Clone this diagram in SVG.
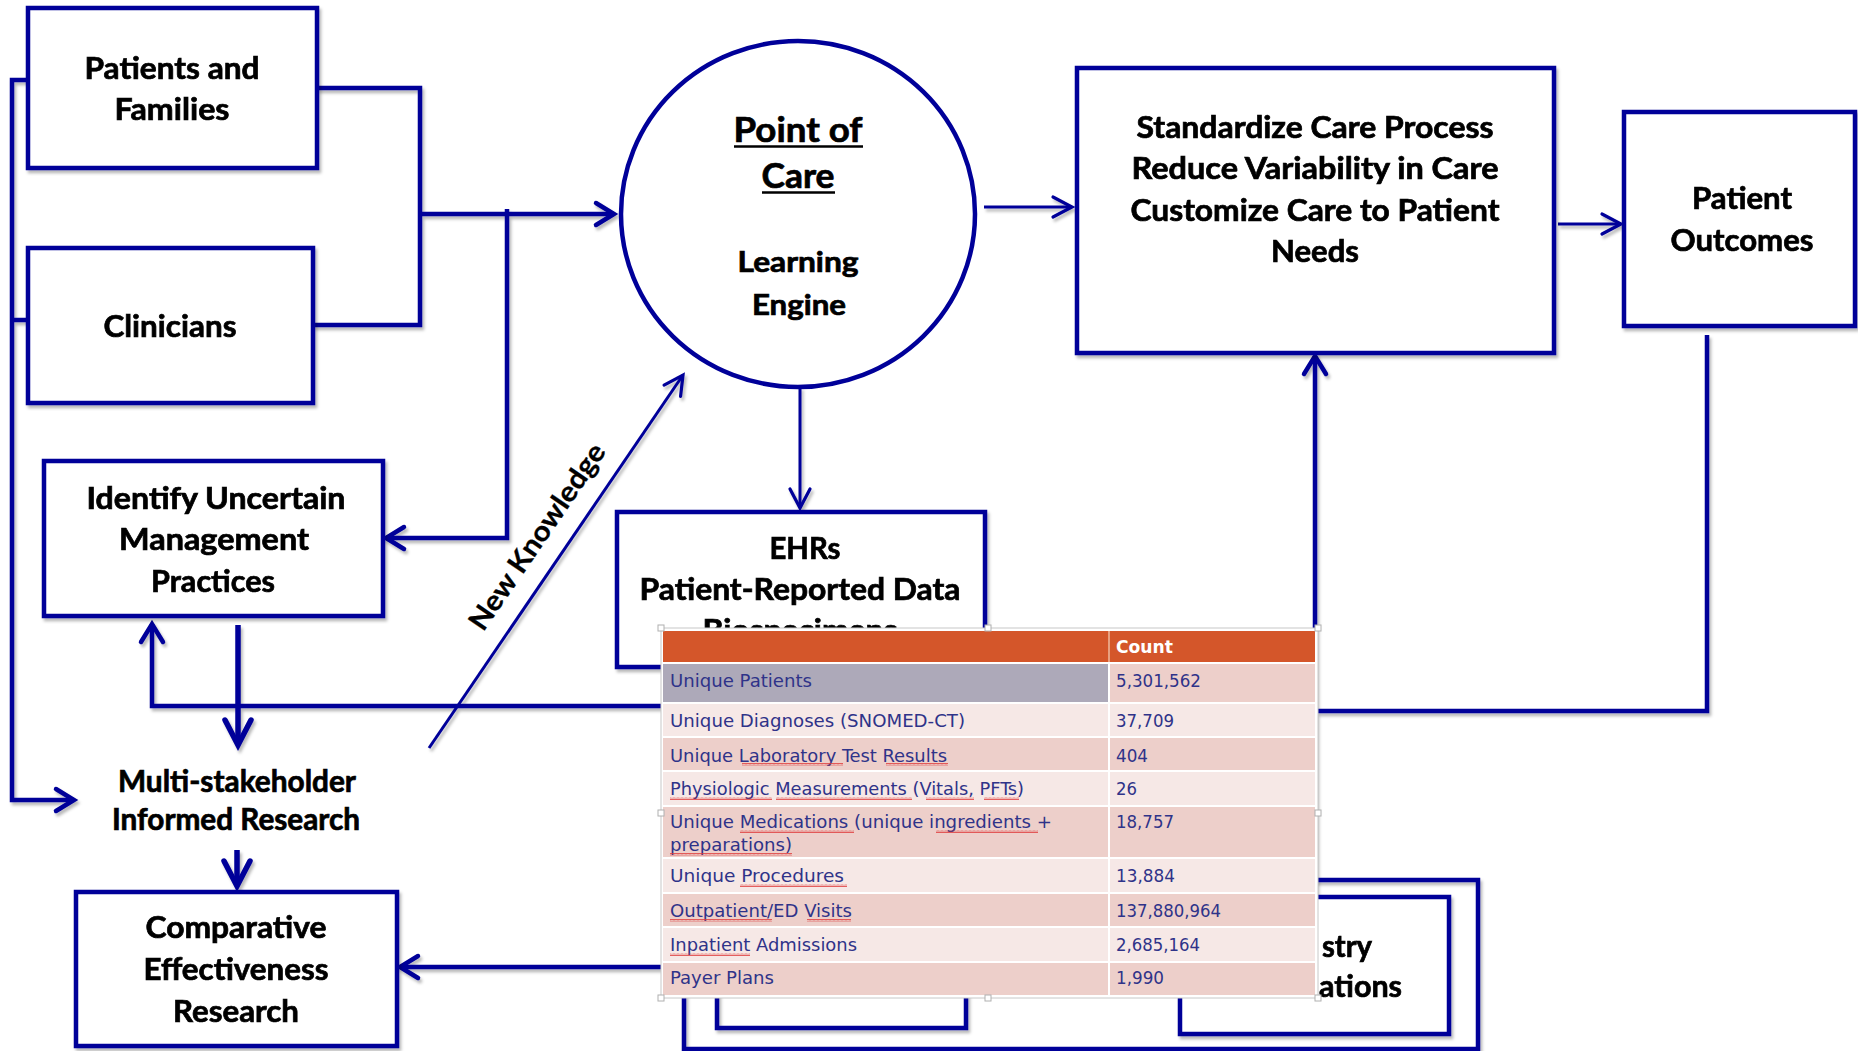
<svg xmlns="http://www.w3.org/2000/svg" width="1858" height="1051" viewBox="0 0 1858 1051">
<defs>
<style>
.box{fill:#fff;stroke:#000099;stroke-width:4.5;stroke-linejoin:miter}
.hid{fill:none;stroke:#000099;stroke-width:4.5}
.ln{fill:none;stroke:#000099;stroke-width:4.5;stroke-linejoin:miter}
.thin{fill:none;stroke:#000099;stroke-width:3}
.thick{fill:none;stroke:#000099;stroke-width:5.5}
.lbl{font-family:"Lato","Open Sans","Liberation Sans",sans-serif;font-weight:700;fill:#000;stroke:#000;stroke-width:0.7px;text-anchor:middle;font-size:30px}
.tt{font-family:"DejaVu Sans Condensed","DejaVu Sans","Liberation Sans",sans-serif;font-size:18.5px;fill:#2F3389}
.hd{font-family:"DejaVu Sans Condensed","DejaVu Sans","Liberation Sans",sans-serif;font-size:18.5px;font-weight:700;fill:#fff}
.dk{fill:#EDCFCA}
.lt{fill:#F6E8E6}
.frame{fill:#fff;stroke:#C8C8C8;stroke-width:1}
.hdb{fill:#fff;stroke:#B0B0B0;stroke-width:1}
.sq{fill:url(#wavy)}
</style>
<pattern id="wavy" x="0" y="0" width="4" height="3" patternUnits="userSpaceOnUse">
<path d="M0,2.4 L1,0.6 L2,2.4 L3,0.6 L4,2.4" fill="none" stroke="#E03A3A" stroke-width="0.8"/>
</pattern>
<marker id="ah" viewBox="-30 -20 40 40" refX="0" refY="0" markerWidth="40" markerHeight="40" markerUnits="userSpaceOnUse" orient="auto">
<path d="M-18,-11 L0,0 L-18,11" fill="none" stroke="#000099" stroke-width="4.5" stroke-linecap="round"/>
</marker>
<marker id="ahb" viewBox="-30 -20 40 40" refX="0" refY="0" markerWidth="40" markerHeight="40" markerUnits="userSpaceOnUse" orient="auto">
<path d="M-25,-13 L0,0 L-25,13" fill="none" stroke="#000099" stroke-width="5.5" stroke-linecap="round"/>
</marker>
<marker id="aht" viewBox="-30 -20 40 40" refX="0" refY="0" markerWidth="40" markerHeight="40" markerUnits="userSpaceOnUse" orient="auto">
<path d="M-19,-10 L0,0 L-19,10" fill="none" stroke="#000099" stroke-width="3.2" stroke-linecap="round"/>
</marker>
<filter id="sh" x="-5%" y="-5%" width="110%" height="110%">
<feDropShadow dx="2" dy="3" stdDeviation="1.5" flood-color="#000" flood-opacity="0.28"/>
</filter>
</defs>
<rect x="0" y="0" width="1858" height="1051" fill="#fff"/>

<g id="connectors" filter="url(#sh)">
<polyline class="ln" points="317,88 420,88 420,325 313,325"/>
<line class="ln" x1="420" y1="214" x2="614" y2="214" marker-end="url(#ah)"/>
<polyline class="ln" points="507,209 507,538 386,538" marker-end="url(#ah)"/>
<polyline class="ln" points="28,80 12,80 12,800 74,800" marker-end="url(#ah)"/>
<line class="ln" x1="12" y1="320" x2="28" y2="320"/>
<line class="thin" x1="800" y1="387" x2="800" y2="508" marker-end="url(#aht)"/>
<line class="thin" x1="984" y1="207" x2="1072" y2="207" marker-end="url(#aht)"/>
<line class="thin" x1="1558" y1="224" x2="1621" y2="224" marker-end="url(#aht)"/>
<polyline class="ln" points="1707,335 1707,711 1310,711"/>
<line class="ln" x1="1315" y1="896" x2="1315" y2="356" marker-end="url(#ah)"/>
<polyline class="ln" points="665,706 152,706 152,624" marker-end="url(#ah)"/>
<line class="thick" x1="238" y1="625" x2="238" y2="745" marker-end="url(#ahb)"/>
<line class="thick" x1="237" y1="850" x2="237" y2="886" marker-end="url(#ahb)"/>
<line class="ln" x1="665" y1="967" x2="400" y2="967" marker-end="url(#ah)"/>
<line class="thin" x1="429" y1="748" x2="683" y2="375" marker-end="url(#aht)"/>
</g>

<g id="patients" filter="url(#sh)">
<rect class="box" x="28" y="8" width="289" height="160"/>
<text class="lbl" x="172" y="79" textLength="175" lengthAdjust="spacingAndGlyphs">Patients and</text>
<text class="lbl" x="172" y="120" textLength="115" lengthAdjust="spacingAndGlyphs">Families</text>
</g>

<g id="clinicians" filter="url(#sh)">
<rect class="box" x="28" y="248" width="285" height="155"/>
<text class="lbl" x="170" y="337" textLength="133" lengthAdjust="spacingAndGlyphs">Clinicians</text>
</g>

<g id="identify" filter="url(#sh)">
<rect class="box" x="44" y="461" width="339" height="155"/>
<text class="lbl" x="216" y="509" textLength="259" lengthAdjust="spacingAndGlyphs">Identify Uncertain</text>
<text class="lbl" x="214" y="550" textLength="190" lengthAdjust="spacingAndGlyphs">Management</text>
<text class="lbl" x="213" y="592" textLength="124" lengthAdjust="spacingAndGlyphs">Practices</text>
</g>

<g id="point-of-care">
<ellipse cx="798" cy="214" rx="177" ry="173" fill="#fff" stroke="#000099" stroke-width="4.5"/>
<text class="lbl" x="798" y="142" style="font-size:35px" textLength="129" lengthAdjust="spacingAndGlyphs">Point of</text>
<line x1="734" y1="146.5" x2="863" y2="146.5" stroke="#000" stroke-width="2.5"/>
<text class="lbl" x="798" y="188" style="font-size:35px" textLength="73" lengthAdjust="spacingAndGlyphs">Care</text>
<line x1="762" y1="192.5" x2="835" y2="192.5" stroke="#000" stroke-width="2.5"/>
<text class="lbl" x="798" y="272" style="font-size:28px" textLength="121" lengthAdjust="spacingAndGlyphs">Learning</text>
<text class="lbl" x="799" y="315" style="font-size:28px" textLength="94" lengthAdjust="spacingAndGlyphs">Engine</text>
</g>

<g id="standardize" filter="url(#sh)">
<rect class="box" x="1077" y="68" width="477" height="285"/>
<text class="lbl" x="1315" y="138" textLength="357" lengthAdjust="spacingAndGlyphs">Standardize Care Process</text>
<text class="lbl" x="1315" y="179" textLength="367" lengthAdjust="spacingAndGlyphs">Reduce Variability in Care</text>
<text class="lbl" x="1315" y="221" textLength="369" lengthAdjust="spacingAndGlyphs">Customize Care to Patient</text>
<text class="lbl" x="1315" y="262" textLength="88" lengthAdjust="spacingAndGlyphs">Needs</text>
</g>

<g id="outcomes" filter="url(#sh)">
<rect class="box" x="1624" y="112" width="231" height="214"/>
<text class="lbl" x="1742" y="209" textLength="100" lengthAdjust="spacingAndGlyphs">Patient</text>
<text class="lbl" x="1742" y="251" textLength="143" lengthAdjust="spacingAndGlyphs">Outcomes</text>
</g>

<g id="new-knowledge">
<text class="lbl" x="545" y="542" style="font-size:28px;stroke-width:0.3px" transform="rotate(-55.7 545 542)" textLength="219" lengthAdjust="spacingAndGlyphs">New Knowledge</text>
</g>

<g id="multi-stakeholder">
<text class="lbl" x="237" y="792" textLength="238" lengthAdjust="spacingAndGlyphs">Multi-stakeholder</text>
<text class="lbl" x="236" y="830" textLength="248" lengthAdjust="spacingAndGlyphs">Informed Research</text>
</g>

<g id="cer" filter="url(#sh)">
<rect class="box" x="76" y="892" width="321" height="154"/>
<text class="lbl" x="236" y="938" textLength="181" lengthAdjust="spacingAndGlyphs">Comparative</text>
<text class="lbl" x="236" y="980" textLength="185" lengthAdjust="spacingAndGlyphs">Effectiveness</text>
<text class="lbl" x="236" y="1022" textLength="126" lengthAdjust="spacingAndGlyphs">Research</text>
</g>

<g id="ehrs" filter="url(#sh)">
<rect class="box" x="617" y="512" width="368" height="155"/>
<text class="lbl" x="805" y="559" textLength="71" lengthAdjust="spacingAndGlyphs">EHRs</text>
<text class="lbl" x="800" y="600" textLength="321" lengthAdjust="spacingAndGlyphs">Patient-Reported Data</text>
<text class="lbl" x="800" y="641" textLength="195" lengthAdjust="spacingAndGlyphs">Biospecimens</text>
</g>

<g id="bottom-boxes" filter="url(#sh)">
<rect class="hid" x="684" y="880" width="794" height="169"/>
<rect class="hid" x="717" y="880" width="249" height="148"/>
<rect class="box" x="1180" y="897" width="269" height="137"/>
<text class="lbl" x="1322" y="957" style="text-anchor:start" textLength="50" lengthAdjust="spacingAndGlyphs">stry</text>
<text class="lbl" x="1319" y="997" style="text-anchor:start" textLength="83" lengthAdjust="spacingAndGlyphs">ations</text>
</g>

<g id="data-table">
<rect class="frame" x="661" y="628" width="657" height="370"/>
<rect x="663" y="631" width="652" height="31" fill="#D4562A"/>
<rect x="1108" y="631" width="2" height="31" fill="#E8A080"/>
<rect x="663" y="664" width="445" height="38" fill="#ADA9B9"/>
<rect x="1110" y="664" width="205" height="38" class="dk"/>
<rect x="663" y="704" width="445" height="32" class="lt"/><rect x="1110" y="704" width="205" height="32" class="lt"/>
<rect x="663" y="738" width="445" height="32" class="dk"/><rect x="1110" y="738" width="205" height="32" class="dk"/>
<rect x="663" y="772" width="445" height="33" class="lt"/><rect x="1110" y="772" width="205" height="33" class="lt"/>
<rect x="663" y="807" width="445" height="50" class="dk"/><rect x="1110" y="807" width="205" height="50" class="dk"/>
<rect x="663" y="859" width="445" height="33" class="lt"/><rect x="1110" y="859" width="205" height="33" class="lt"/>
<rect x="663" y="894" width="445" height="32" class="dk"/><rect x="1110" y="894" width="205" height="32" class="dk"/>
<rect x="663" y="928" width="445" height="33" class="lt"/><rect x="1110" y="928" width="205" height="33" class="lt"/>
<rect x="663" y="963" width="445" height="32" class="dk"/><rect x="1110" y="963" width="205" height="32" class="dk"/>

<text class="hd" x="1116" y="653" textLength="57" lengthAdjust="spacingAndGlyphs">Count</text>
<text class="tt" x="670" y="687" textLength="142" lengthAdjust="spacingAndGlyphs">Unique Patients</text>
<text class="tt" x="1116" y="687" textLength="85" lengthAdjust="spacingAndGlyphs">5,301,562</text>
<text class="tt" x="670" y="727" textLength="295" lengthAdjust="spacingAndGlyphs">Unique Diagnoses (SNOMED-CT)</text>
<text class="tt" x="1116" y="727" textLength="58" lengthAdjust="spacingAndGlyphs">37,709</text>
<text class="tt" x="670" y="762" textLength="277" lengthAdjust="spacingAndGlyphs">Unique Laboratory Test Results</text>
<text class="tt" x="1116" y="762" textLength="32" lengthAdjust="spacingAndGlyphs">404</text>
<text class="tt" x="670" y="795" textLength="354" lengthAdjust="spacingAndGlyphs">Physiologic Measurements (Vitals, PFTs)</text>
<text class="tt" x="1116" y="795" textLength="21" lengthAdjust="spacingAndGlyphs">26</text>
<text class="tt" x="670" y="828" textLength="382" lengthAdjust="spacingAndGlyphs">Unique Medications (unique ingredients +</text>
<text class="tt" x="670" y="851" textLength="122" lengthAdjust="spacingAndGlyphs">preparations)</text>
<text class="tt" x="1116" y="828" textLength="58" lengthAdjust="spacingAndGlyphs">18,757</text>
<text class="tt" x="670" y="882" textLength="174" lengthAdjust="spacingAndGlyphs">Unique Procedures</text>
<text class="tt" x="1116" y="882" textLength="59" lengthAdjust="spacingAndGlyphs">13,884</text>
<text class="tt" x="670" y="917" textLength="182" lengthAdjust="spacingAndGlyphs">Outpatient/ED Visits</text>
<text class="tt" x="1116" y="917" textLength="105" lengthAdjust="spacingAndGlyphs">137,880,964</text>
<text class="tt" x="670" y="951" textLength="187" lengthAdjust="spacingAndGlyphs">Inpatient Admissions</text>
<text class="tt" x="1116" y="951" textLength="84" lengthAdjust="spacingAndGlyphs">2,685,164</text>
<text class="tt" x="670" y="984" textLength="104" lengthAdjust="spacingAndGlyphs">Payer Plans</text>
<text class="tt" x="1116" y="984" textLength="48" lengthAdjust="spacingAndGlyphs">1,990</text>

<rect class="sq" x="742" y="763" width="101" height="3"/>
<rect class="sq" x="886" y="763" width="62" height="3"/>
<rect class="sq" x="670" y="797" width="102" height="3"/>
<rect class="sq" x="776" y="797" width="136" height="3"/>
<rect class="sq" x="926" y="797" width="48" height="3"/>
<rect class="sq" x="984" y="797" width="35" height="3"/>
<rect class="sq" x="740" y="830" width="114" height="3"/>
<rect class="sq" x="936" y="830" width="102" height="3"/>
<rect class="sq" x="670" y="853" width="122" height="3"/>
<rect class="sq" x="740" y="884" width="107" height="3"/>
<rect class="sq" x="670" y="919" width="102" height="3"/>
<rect class="sq" x="807" y="919" width="44" height="3"/>
<rect class="sq" x="670" y="953" width="80" height="3"/>

<rect class="hdb" x="658" y="625" width="6" height="6"/>
<rect class="hdb" x="985" y="625" width="6" height="6"/>
<rect class="hdb" x="1315" y="625" width="6" height="6"/>
<rect class="hdb" x="658" y="810" width="6" height="6"/>
<rect class="hdb" x="1315" y="810" width="6" height="6"/>
<rect class="hdb" x="658" y="995" width="6" height="6"/>
<rect class="hdb" x="985" y="995" width="6" height="6"/>
<rect class="hdb" x="1315" y="995" width="6" height="6"/>
</g>
</svg>
